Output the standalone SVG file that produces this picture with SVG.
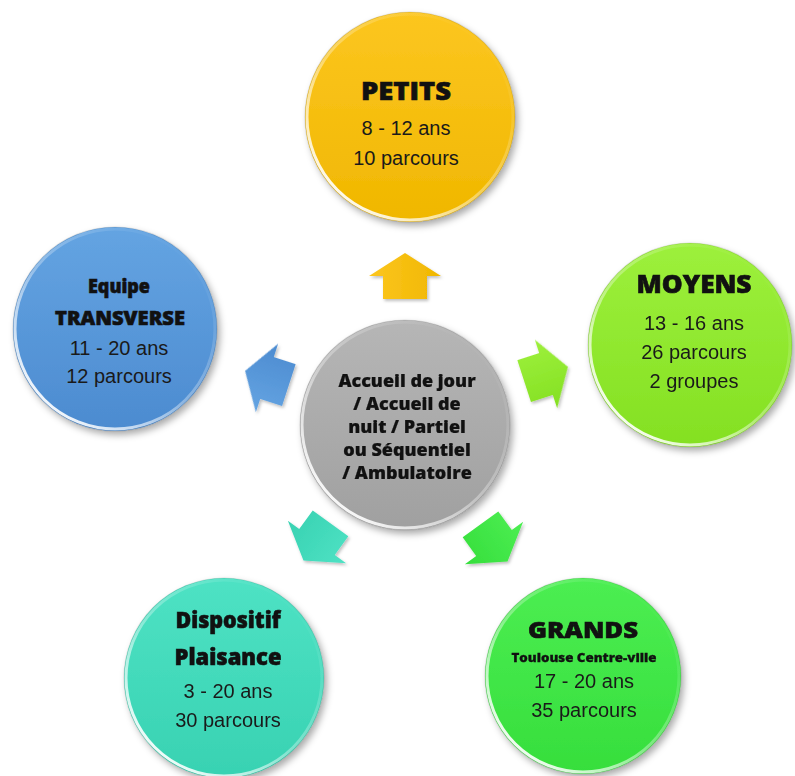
<svg xmlns="http://www.w3.org/2000/svg" width="795" height="776" viewBox="0 0 795 776">
  <style>
    .head { font-family: "Open Sans", "Liberation Sans", sans-serif; font-weight: 800; fill: #111; stroke: #111; stroke-width: 0.6; text-anchor: middle; }
    .sub  { font-family: "Open Sans", "Liberation Sans", sans-serif; font-weight: 800; fill: #111; stroke: #111; stroke-width: 0.3; text-anchor: middle; }
    .num  { font-family: "Liberation Sans", Arial, sans-serif; font-size: 20px; fill: #1a1a1a; text-anchor: middle; }
    .core { font-family: "Open Sans", "Liberation Sans", sans-serif; font-weight: 800; font-size: 18px; fill: #111; stroke: #111; stroke-width: 0.2; text-anchor: middle; }
    .rim  { fill: none; stroke: url(#rimLight); stroke-width: 3; }
    .edge { fill: none; stroke: #000; stroke-opacity: 0.10; stroke-width: 1.2; }
  </style>
  <defs>
    <filter id="shadow" x="-20%" y="-20%" width="150%" height="150%">
      <feDropShadow dx="3" dy="4" stdDeviation="3.5" flood-color="#000" flood-opacity="0.33"/>
    </filter>
    <filter id="arrowShadow" x="-30%" y="-30%" width="170%" height="170%">
      <feDropShadow dx="1.5" dy="2" stdDeviation="1.5" flood-color="#000" flood-opacity="0.25"/>
    </filter>
    <linearGradient id="rimLight" x1="0.15" y1="0.9" x2="0.85" y2="0.1">
      <stop offset="0" stop-color="#fff" stop-opacity="0.95"/>
      <stop offset="0.45" stop-color="#fff" stop-opacity="0.35"/>
      <stop offset="1" stop-color="#fff" stop-opacity="0"/>
    </linearGradient>
    <linearGradient id="gYellow" x1="0" y1="0" x2="0" y2="1">
      <stop offset="0" stop-color="#FCC620"/>
      <stop offset="1" stop-color="#F0B700"/>
    </linearGradient>
    <linearGradient id="gLime" x1="0" y1="0" x2="0" y2="1">
      <stop offset="0" stop-color="#9DF03C"/>
      <stop offset="1" stop-color="#84E022"/>
    </linearGradient>
    <linearGradient id="gGreen" x1="0" y1="0" x2="0" y2="1">
      <stop offset="0" stop-color="#4CEE52"/>
      <stop offset="1" stop-color="#36DE3C"/>
    </linearGradient>
    <linearGradient id="gTeal" x1="0" y1="0" x2="0" y2="1">
      <stop offset="0" stop-color="#4EE2C4"/>
      <stop offset="1" stop-color="#38D2B2"/>
    </linearGradient>
    <linearGradient id="gBlue" x1="0" y1="0" x2="0" y2="1">
      <stop offset="0" stop-color="#64A4E2"/>
      <stop offset="1" stop-color="#4C8BD0"/>
    </linearGradient>
    <linearGradient id="gGray" x1="0" y1="0" x2="0" y2="1">
      <stop offset="0" stop-color="#B6B6B6"/>
      <stop offset="1" stop-color="#A0A0A0"/>
    </linearGradient>
    <!-- block arrow pointing along +x, centred on its head base -->
    <path id="arrow" d="M23,0 L0,-36 L0,-22 L-23,-22 L-23,22 L0,22 L0,36 Z"/>
  </defs>

  <rect width="795" height="776" fill="#fff"/>

  <!-- connectors: block arrows radiating from the hub -->
  <g id="connectors" filter="url(#arrowShadow)">
    <use href="#arrow" transform="translate(405,276) rotate(-90)" fill="url(#gYellow)"/>
    <use href="#arrow" transform="translate(546,374) rotate(-18)" fill="url(#gLime)"/>
    <use href="#arrow" transform="translate(494,543) rotate(54)" fill="url(#gGreen)"/>
    <use href="#arrow" transform="translate(317,542) rotate(126)" fill="url(#gTeal)"/>
    <use href="#arrow" transform="translate(267,378) rotate(198)" fill="url(#gBlue)"/>
  </g>

  <!-- hub -->
  <g id="hub">
    <circle cx="405" cy="425" r="105" fill="url(#gGray)" filter="url(#shadow)"/>
    <circle cx="405" cy="425" r="103" class="rim"/>
    <circle cx="405" cy="425" r="105" class="edge"/>
    <text class="core" x="407" y="387">Accueil de jour</text>
    <text class="core" x="407" y="410">/ Accueil de</text>
    <text class="core" x="407" y="433">nuit / Partiel</text>
    <text class="core" x="407" y="456">ou Séquentiel</text>
    <text class="core" x="407" y="479">/ Ambulatoire</text>
  </g>

  <g id="petits">
    <circle cx="410" cy="117" r="105" fill="url(#gYellow)" filter="url(#shadow)"/>
    <circle cx="410" cy="117" r="103" class="rim"/>
    <circle cx="410" cy="117" r="105" class="edge"/>
    <text class="head" x="406" y="100" font-size="25" textLength="90" lengthAdjust="spacingAndGlyphs">PETITS</text>
    <text class="num" x="406" y="135">8 - 12 ans</text>
    <text class="num" x="406" y="165">10 parcours</text>
  </g>

  <g id="moyens">
    <circle cx="690" cy="345" r="102" fill="url(#gLime)" filter="url(#shadow)"/>
    <circle cx="690" cy="345" r="100" class="rim"/>
    <circle cx="690" cy="345" r="102" class="edge"/>
    <text class="head" x="694" y="293" font-size="24" textLength="115" lengthAdjust="spacingAndGlyphs">MOYENS</text>
    <text class="num" x="694" y="330">13 - 16 ans</text>
    <text class="num" x="694" y="359">26 parcours</text>
    <text class="num" x="694" y="388">2 groupes</text>
  </g>

  <g id="grands">
    <circle cx="583" cy="676" r="98" fill="url(#gGreen)" filter="url(#shadow)"/>
    <circle cx="583" cy="676" r="96" class="rim"/>
    <circle cx="583" cy="676" r="98" class="edge"/>
    <text class="head" x="583" y="638" font-size="22" textLength="110" lengthAdjust="spacingAndGlyphs">GRANDS</text>
    <text class="sub" x="584" y="662" font-size="13" textLength="145" lengthAdjust="spacingAndGlyphs">Toulouse Centre-ville</text>
    <text class="num" x="584" y="688">17 - 20 ans</text>
    <text class="num" x="584" y="717">35 parcours</text>
  </g>

  <g id="dispositif">
    <circle cx="224" cy="678" r="100" fill="url(#gTeal)" filter="url(#shadow)"/>
    <circle cx="224" cy="678" r="98" class="rim"/>
    <circle cx="224" cy="678" r="100" class="edge"/>
    <text class="head" x="228" y="628" font-size="22" textLength="105" lengthAdjust="spacingAndGlyphs">Dispositif</text>
    <text class="head" x="228" y="665" font-size="22" textLength="107" lengthAdjust="spacingAndGlyphs">Plaisance</text>
    <text class="num" x="228" y="698">3 - 20 ans</text>
    <text class="num" x="228" y="727">30 parcours</text>
  </g>

  <g id="equipe">
    <circle cx="115" cy="329" r="102" fill="url(#gBlue)" filter="url(#shadow)"/>
    <circle cx="115" cy="329" r="100" class="rim"/>
    <circle cx="115" cy="329" r="102" class="edge"/>
    <text class="head" x="119" y="293" font-size="19" textLength="62" lengthAdjust="spacingAndGlyphs">Equipe</text>
    <text class="head" x="120" y="325" font-size="19" textLength="130" lengthAdjust="spacingAndGlyphs">TRANSVERSE</text>
    <text class="num" x="119" y="355">11 - 20 ans</text>
    <text class="num" x="119" y="383">12 parcours</text>
  </g>
</svg>
